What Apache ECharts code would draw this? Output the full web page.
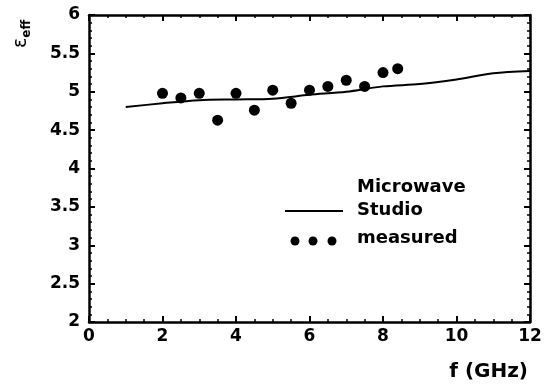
<!DOCTYPE html>
<html>
<head>
<meta charset="utf-8">
<script src="https://cdn.jsdelivr.net/npm/echarts@6/dist/echarts.min.js"></script>
<style>
  html, body { margin: 0; padding: 0; background: #fff; }
  #chart { width: 545px; height: 389px; }
</style>
</head>
<body>
<div id="chart"></div>
<script>
// measured points (f in GHz, eps_eff)
var measuredF   = [2.0, 2.5, 3.0, 3.5, 4.0, 4.5, 5.0, 5.5, 6.0, 6.5, 7.0, 7.5, 8.0, 8.4];
var measuredEps = [4.98, 4.92, 4.98, 4.63, 4.98, 4.76, 5.02, 4.85, 5.02, 5.07, 5.15, 5.07, 5.25, 5.30];

// Microwave Studio simulation
var simF   = [1, 2, 3, 4, 5, 6, 7, 8, 9, 10, 11, 12];
var simEps = [4.80, 4.85, 4.89, 4.90, 4.91, 4.96, 5.00, 5.07, 5.10, 5.16, 5.24, 5.27];

var xTicks = [0, 2, 4, 6, 8, 10, 12];
var yTicks = [2, 2.5, 3, 3.5, 4, 4.5, 5, 5.5, 6];

var font = '"DejaVu Sans", sans-serif';

function pairs(xs, ys) {
  var out = [];
  for (var i = 0; i < xs.length; i++) out.push([xs[i], ys[i]]);
  return out;
}

var myChart = echarts.init(document.getElementById('chart'));

var lineStyle = { color: '#000', width: 2.5 };
var tickStyle = { color: '#000', width: 2 };
var minorStyle = { color: '#000', width: 1.5 };
var labelStyle = { color: '#000', fontFamily: font, fontWeight: 'bold', fontSize: 17 };

function axisBase(min, max, interval, pos, split) {
  return {
    type: 'value', min: min, max: max, interval: interval, position: pos,
    axisLine: { show: true, onZero: false, lineStyle: lineStyle },
    axisTick: { show: true, inside: true, length: 6, lineStyle: tickStyle },
    minorTick: { show: true, splitNumber: split, length: 3, lineStyle: minorStyle },
    splitLine: { show: false },
    axisLabel: { show: false }
  };
}

var xBottom = axisBase(xTicks[0], xTicks[xTicks.length - 1], 2, 'bottom', 4);
xBottom.axisLabel = Object.assign({ show: true, margin: 6 }, labelStyle);
xBottom.name = 'f (GHz)';
xBottom.nameLocation = 'end';
xBottom.nameGap = -2;
xBottom.nameTextStyle = { color: '#000', fontFamily: font, fontWeight: 'bold', fontSize: 20,
  align: 'right', verticalAlign: 'top', padding: [40, 0, 0, 0] };

var yLeft = axisBase(yTicks[0], yTicks[yTicks.length - 1], 0.5, 'left', 5);
yLeft.axisLabel = Object.assign({ show: true, margin: 9 }, labelStyle);

option = {
  animation: false,
  backgroundColor: '#fff',
  grid: { left: 89, top: 15, right: 15, bottom: 67, containLabel: false },
  xAxis: [xBottom, axisBase(xTicks[0], xTicks[xTicks.length - 1], 2, 'top', 4)],
  yAxis: [yLeft, axisBase(yTicks[0], yTicks[yTicks.length - 1], 0.5, 'right', 5)],
  series: [
    {
      name: 'Microwave Studio', type: 'line', smooth: 0.3,
      data: pairs(simF, simEps),
      showSymbol: false, symbol: 'none',
      lineStyle: { color: '#000', width: 2 }
    },
    {
      name: 'measured', type: 'scatter',
      data: pairs(measuredF, measuredEps),
      symbol: 'circle', symbolSize: 11,
      itemStyle: { color: '#000', opacity: 1 }
    }
  ],
  graphic: [
    {
      type: 'text', x: 21, y: 48, rotation: Math.PI / 2,
      style: {
        text: '{e|ε}{s|eff}', align: 'left', verticalAlign: 'middle',
        rich: {
          e: { fontFamily: '"DejaVu Sans", sans-serif', fontSize: 19, fill: '#000' },
          s: { fontFamily: font, fontWeight: 'bold', fontSize: 12, fill: '#000', padding: [12, 0, 0, 0] }
        }
      }
    },
    { type: 'line', shape: { x1: 285, y1: 211, x2: 343, y2: 211 }, style: { stroke: '#000', lineWidth: 2 } },
    { type: 'text', left: 357, top: 176, style: { text: 'Microwave\nStudio', fill: '#000', font: 'bold 18px ' + font, lineHeight: 23 } },
    { type: 'circle', shape: { cx: 295, cy: 241, r: 4.5 }, style: { fill: '#000' } },
    { type: 'circle', shape: { cx: 313, cy: 241, r: 4.5 }, style: { fill: '#000' } },
    { type: 'circle', shape: { cx: 332, cy: 241, r: 4.5 }, style: { fill: '#000' } },
    { type: 'text', left: 357, top: 229, style: { text: 'measured', fill: '#000', font: 'bold 18px ' + font } }
  ]
};
myChart.setOption(option);
</script>
</body>
</html>
